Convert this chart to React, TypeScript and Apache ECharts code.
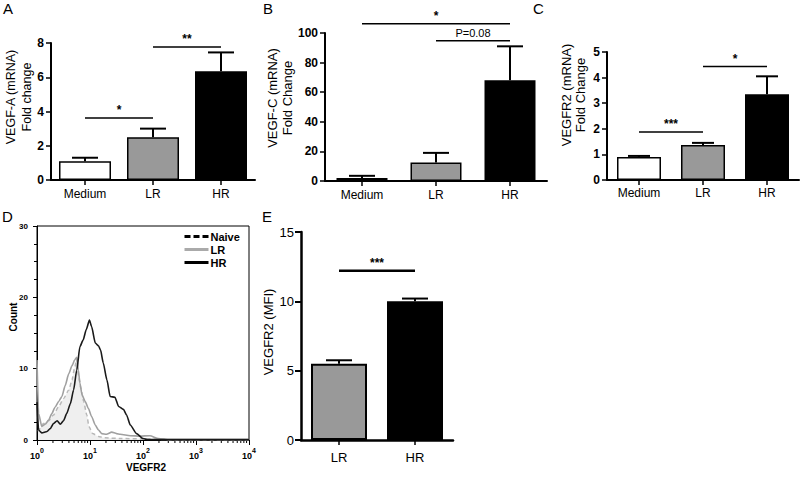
import React, { useEffect, useRef } from 'react';
import * as echarts from 'echarts';

// ---------- data ----------
const categories = ['Medium', 'LR', 'HR'];
const barColors = ['#ffffff', '#999999', '#000000'];

// A: VEGF-A (mRNA) fold change
const vegfaMean = [1.1, 2.5, 6.35];
const vegfaSem = [0.2, 0.5, 1.1];
const sigAFrom = [0, 1];
const sigATo = [1, 2];
const sigAY = [3.62, 7.77];
const sigALabel = ['*', '**'];

// B: VEGF-C (mRNA) fold change
const vegfcMean = [2, 12.5, 68];
const vegfcSem = [1.5, 6.5, 23];
const sigBFrom = [0, 1];
const sigBTo = [2, 2];
const sigBY = [106.3, 94.8];
const sigBLabel = ['*', 'P=0.08'];

// C: VEGFR2 (mRNA) fold change
const vegfr2Mean = [0.9, 1.37, 3.35];
const vegfr2Sem = [0.04, 0.08, 0.7];
const sigCFrom = [0, 1];
const sigCTo = [1, 2];
const sigCY = [1.875, 4.43];
const sigCLabel = ['***', '*'];

// D: flow cytometry histogram (x = log10 VEGFR2 intensity, y = count)
const naiveLog = [0.02, 0.06, 0.12, 0.22, 0.31, 0.41, 0.5, 0.6, 0.66, 0.71, 0.75, 0.78, 0.83, 0.88, 0.94, 0.98, 1.05, 1.16, 1.28, 1.6, 2.0, 2.5, 3.0, 3.5, 4.0];
const naiveCount = [1.2, 1.6, 2.3, 2.7, 3.5, 4.7, 5.8, 7.0, 8.4, 10.1, 11.4, 9.1, 7.2, 5.4, 3.5, 1.9, 0.9, 0.5, 0.3, 0.2, 0.15, 0.05, 0.05, 0.05, 0.05];
const lrLog = [0, 0.03, 0.09, 0.16, 0.22, 0.28, 0.34, 0.41, 0.47, 0.53, 0.6, 0.66, 0.71, 0.75, 0.78, 0.81, 0.85, 0.91, 0.97, 1.03, 1.1, 1.16, 1.22, 1.31, 1.41, 1.5, 1.57, 1.76, 1.94, 2.13, 2.29, 2.5, 3.0, 3.5, 4.0];
const lrCount = [11.2, 3.7, 1.9, 2.25, 2.8, 3.7, 4.6, 5.4, 6.1, 7.6, 9.3, 10.4, 11.2, 11.6, 9.8, 8.0, 6.3, 5.4, 4.4, 3.3, 2.1, 1.4, 0.9, 0.8, 1.1, 0.9, 0.8, 0.6, 0.55, 0.6, 0.2, 0.05, 0.05, 0.05, 0.05];
const hrLog = [0, 0.03, 0.09, 0.19, 0.25, 0.31, 0.38, 0.44, 0.5, 0.56, 0.63, 0.69, 0.75, 0.81, 0.87, 0.93, 0.99, 1.03, 1.1, 1.16, 1.2, 1.25, 1.32, 1.38, 1.47, 1.54, 1.63, 1.69, 1.76, 1.88, 2.0, 2.1, 2.5, 3.0, 3.5, 4.0];
const hrCount = [5.3, 1.4, 1.0, 1.2, 1.6, 2.3, 2.7, 2.2, 2.7, 3.7, 5.1, 7.0, 9.8, 13.1, 14.0, 15.5, 16.8, 15.9, 13.6, 13.2, 12.6, 10.8, 8.4, 6.1, 6.0, 4.7, 4.3, 3.5, 2.1, 0.9, 0.2, 0.05, 0.05, 0.05, 0.05, 0.05];
const decades = [0, 1, 2, 3];
const minorMultipliers = [2, 3, 4, 5, 6, 7, 8, 9];

// E: VEGFR2 (MFI)
const categoriesE = ['LR', 'HR'];
const barColorsE = ['#999999', '#000000'];
const mfiMean = [5.5, 10.0];
const mfiSem = [0.25, 0.2];
const sigEFrom = [0];
const sigETo = [1];
const sigEY = [12.2];
const sigELabel = ['***'];

const FONT = '"Liberation Sans", Arial, Helvetica, sans-serif';

function barSeries(idx: number, means: number[], colors: string[], barWidth: number, borderWidth: number) {
  return {
    type: 'bar',
    name: 'bars' + idx,
    xAxisIndex: idx,
    yAxisIndex: idx,
    barWidth,
    z: 2,
    data: means.map((v, i) => ({ value: v, itemStyle: { color: colors[i] } })),
    itemStyle: { borderColor: '#000', borderWidth },
  };
}

function errorSeries(idx: number, means: number[], sems: number[], capHalf: number, lw: number) {
  return {
    type: 'custom',
    name: 'err' + idx,
    xAxisIndex: idx,
    yAxisIndex: idx,
    z: 3,
    silent: true,
    data: means.map((m, i) => [i, m, m + sems[i]]),
    renderItem: (_params: any, api: any) => {
      const x = api.value(0);
      const base = api.coord([x, api.value(1)]);
      const top = api.coord([x, api.value(2)]);
      return {
        type: 'group',
        children: [
          { type: 'line', shape: { x1: base[0], y1: base[1], x2: top[0], y2: top[1] }, style: { stroke: '#000', lineWidth: lw } },
          { type: 'line', shape: { x1: top[0] - capHalf, y1: top[1], x2: top[0] + capHalf, y2: top[1] }, style: { stroke: '#000', lineWidth: lw } },
        ],
      };
    },
  };
}

function sigSeries(idx: number, from: number[], to: number[], ys: number[], labels: string[], lw: number, fonts: string[]) {
  return {
    type: 'custom',
    name: 'sig' + idx,
    xAxisIndex: idx,
    yAxisIndex: idx,
    z: 4,
    silent: true,
    clip: false,
    data: from.map((f, i) => [f, to[i], ys[i]]),
    renderItem: (params: any, api: any) => {
      const p1 = api.coord([api.value(0), api.value(2)]);
      const p2 = api.coord([api.value(1), api.value(2)]);
      const i = params.dataIndex;
      return {
        type: 'group',
        children: [
          { type: 'line', shape: { x1: p1[0], y1: p1[1], x2: p2[0], y2: p1[1] }, style: { stroke: '#000', lineWidth: lw } },
          {
            type: 'text',
            x: (p1[0] + p2[0]) / 2,
            y: p1[1] - 2,
            style: { text: labels[i], textAlign: 'center', textVerticalAlign: 'bottom', font: fonts[i], fill: '#000' },
          },
        ],
      };
    },
  };
}

function catAxis(idx: number, data: string[], fontSize: number, margin: number, lw: number) {
  return {
    type: 'category',
    gridIndex: idx,
    data,
    axisLine: { show: true, lineStyle: { color: '#000', width: lw } },
    axisTick: { show: true, alignWithLabel: true, length: 5, lineStyle: { color: '#000', width: 1.5 } },
    axisLabel: { color: '#000', fontSize, fontFamily: FONT, margin },
    splitLine: { show: false },
  };
}

function valAxis(idx: number, max: number, interval: number, bold: boolean, fontSize: number, lw: number) {
  return {
    type: 'value',
    gridIndex: idx,
    min: 0,
    max,
    interval,
    axisLine: { show: true, lineStyle: { color: '#000', width: lw } },
    axisTick: { show: true, length: 5, lineStyle: { color: '#000', width: 1.5 } },
    axisLabel: { color: '#000', fontSize, fontWeight: bold ? 'bold' : 'normal', fontFamily: FONT, margin: 7 },
    splitLine: { show: false },
  };
}

function vText(x: number, y: number, text: string, font: string, lineHeight: number) {
  return {
    type: 'text',
    x,
    y,
    rotation: Math.PI / 2,
    style: { text, font, fill: '#000', textAlign: 'center', textVerticalAlign: 'middle', lineHeight },
  };
}

function letter(x: number, y: number, text: string) {
  return { type: 'text', x, y, style: { text, font: `15px ${FONT}`, fill: '#000', textAlign: 'left', textVerticalAlign: 'top' } };
}

export default function App() {
  const ref = useRef<HTMLDivElement>(null);
  useEffect(() => {
    if (!ref.current) return;
    const chart = echarts.init(ref.current, undefined, { renderer: 'svg' });
    const minorTicks: number[][] = [];
    decades.forEach((d) => minorMultipliers.forEach((k) => minorTicks.push([d + Math.log10(k), 0])));

    const hiddenSymbol = { color: 'rgba(0,0,0,0)', borderWidth: 0, opacity: 0 };

    const option: any = {
      animation: false,
      backgroundColor: '#ffffff',
      textStyle: { fontFamily: FONT },
      grid: [
        { left: 51, top: 43, width: 204, height: 137 },
        { left: 325, top: 33, width: 222, height: 148 },
        { left: 607, top: 52, width: 192, height: 128 },
        { left: 37, top: 226, width: 212, height: 214, show: true, borderColor: '#000', borderWidth: 1, backgroundColor: 'transparent' },
        { left: 301, top: 232, width: 152, height: 208 },
      ],
      xAxis: [
        catAxis(0, categories, 12, 8, 2),
        catAxis(1, categories, 12, 8, 2),
        catAxis(2, categories, 12, 7, 2),
        {
          type: 'value',
          gridIndex: 3,
          min: 0,
          max: 4,
          interval: 1,
          axisLine: { show: true, lineStyle: { color: '#000', width: 1 } },
          axisTick: { show: true, length: 5, lineStyle: { color: '#000', width: 1 } },
          axisLabel: {
            margin: 7,
            formatter: (v: number) => `{b|10}{s|${v}}`,
            rich: {
              b: { fontSize: 9, fontWeight: 'bold', fontFamily: FONT, color: '#000', lineHeight: 13, verticalAlign: 'bottom' },
              s: { fontSize: 7, fontWeight: 'bold', fontFamily: FONT, color: '#000', lineHeight: 13, verticalAlign: 'top' },
            },
          },
          splitLine: { show: false },
        },
        catAxis(4, categoriesE, 13, 11, 2.5),
      ],
      yAxis: [
        valAxis(0, 8, 2, true, 12, 2),
        valAxis(1, 100, 20, true, 12, 2),
        valAxis(2, 5, 1, true, 12, 2),
        {
          type: 'value',
          gridIndex: 3,
          min: 0,
          max: 30,
          interval: 10,
          axisLine: { show: true, lineStyle: { color: '#000', width: 1 } },
          axisTick: { show: true, length: 4, lineStyle: { color: '#000', width: 1 } },
          minorTick: { show: true, splitNumber: 4, length: 3, lineStyle: { color: '#000', width: 1 } },
          axisLabel: { color: '#000', fontSize: 8, fontWeight: 'bold', fontFamily: FONT, margin: 9 },
          splitLine: { show: false },
          minorSplitLine: { show: false },
        },
        { ...valAxis(4, 15, 5, false, 13, 2.5), axisTick: { show: true, length: 6, lineStyle: { color: '#000', width: 2 } } },
      ],
      legend: {
        left: 183,
        top: 231,
        orient: 'vertical',
        itemWidth: 24,
        itemHeight: 10,
        itemGap: 2,
        padding: 0,
        selectedMode: false,
        textStyle: { fontSize: 11, fontWeight: 'bold', fontFamily: FONT, color: '#000', padding: [0, 0, 0, -3] },
        data: [
          { name: 'Naive', itemStyle: hiddenSymbol, lineStyle: { color: '#000', type: [6, 3], width: 3 } },
          { name: 'LR', itemStyle: hiddenSymbol, lineStyle: { color: '#aaa', width: 3 } },
          { name: 'HR', itemStyle: hiddenSymbol, lineStyle: { color: '#000', width: 3 } },
        ],
      },
      series: [
        barSeries(0, vegfaMean, barColors, 52, 1.5),
        errorSeries(0, vegfaMean, vegfaSem, 13, 2),
        sigSeries(0, sigAFrom, sigATo, sigAY, sigALabel, 1.5, [`bold 12px ${FONT}`, `bold 12px ${FONT}`]),

        barSeries(1, vegfcMean, barColors, 51, 1.5),
        errorSeries(1, vegfcMean, vegfcSem, 13, 2),
        sigSeries(1, sigBFrom, sigBTo, sigBY, sigBLabel, 1.5, [`bold 12px ${FONT}`, `11px ${FONT}`]),

        barSeries(2, vegfr2Mean, barColors, 44, 1.5),
        errorSeries(2, vegfr2Mean, vegfr2Sem, 11, 2),
        sigSeries(2, sigCFrom, sigCTo, sigCY, sigCLabel, 1.5, [`bold 12px ${FONT}`, `bold 12px ${FONT}`]),

        {
          type: 'line',
          name: 'Naive',
          xAxisIndex: 3,
          yAxisIndex: 3,
          showSymbol: false,
          symbol: 'none',
          smooth: 0.2,
          smoothMonotone: 'x',
          color: '#000',
          z: 2,
          data: naiveLog.map((x, i) => [x, naiveCount[i]]),
          lineStyle: { color: '#b8b8b8', width: 1.5, type: [4, 3] },
          areaStyle: { color: '#efefef', opacity: 1 },
        },
        {
          type: 'line',
          name: 'LR',
          xAxisIndex: 3,
          yAxisIndex: 3,
          showSymbol: false,
          symbol: 'none',
          smooth: 0.2,
          smoothMonotone: 'x',
          color: '#aaa',
          z: 3,
          data: lrLog.map((x, i) => [x, lrCount[i]]),
          lineStyle: { color: '#a0a0a0', width: 1.6 },
        },
        {
          type: 'line',
          name: 'HR',
          xAxisIndex: 3,
          yAxisIndex: 3,
          showSymbol: false,
          symbol: 'none',
          smooth: 0.2,
          smoothMonotone: 'x',
          color: '#000',
          z: 4,
          data: hrLog.map((x, i) => [x, hrCount[i]]),
          lineStyle: { color: '#1a1a1a', width: 1.6 },
        },
        {
          type: 'custom',
          name: 'minorTicks',
          xAxisIndex: 3,
          yAxisIndex: 3,
          silent: true,
          clip: false,
          data: minorTicks,
          renderItem: (_p: any, api: any) => {
            const p = api.coord([api.value(0), 0]);
            return { type: 'line', shape: { x1: p[0], y1: p[1], x2: p[0], y2: p[1] + 3 }, style: { stroke: '#000', lineWidth: 1 } };
          },
        },

        barSeries(4, mfiMean, barColorsE, 56, 2),
        errorSeries(4, mfiMean, mfiSem, 13, 2),
        sigSeries(4, sigEFrom, sigETo, sigEY, sigELabel, 2.5, [`bold 12px ${FONT}`]),
      ],
      graphic: [
        letter(3, 1, 'A'),
        letter(263, 1, 'B'),
        letter(533, 1, 'C'),
        letter(2, 209, 'D'),
        letter(262, 209, 'E'),
        vText(19, 97, 'VEGF-A (mRNA)\nFold change', `12.5px ${FONT}`, 16),
        vText(280, 98, 'VEGF-C (mRNA)\nFold Change', `13px ${FONT}`, 15),
        vText(573, 95, 'VEGFR2 (mRNA)\nFold Change', `13px ${FONT}`, 14),
        vText(268, 332, 'VEGFR2 (MFI)', `13px ${FONT}`, 15),
        vText(13, 317, 'Count', `bold 10px ${FONT}`, 12),
        { type: 'text', x: 146, y: 467, style: { text: 'VEGFR2', font: `bold 10px ${FONT}`, fill: '#000', textAlign: 'center', textVerticalAlign: 'middle' } },
      ],
    };
    chart.setOption(option);
    return () => chart.dispose();
  }, []);
  return <div ref={ref} style={{ position: 'fixed', left: 0, top: 0, width: 800, height: 481 }} />;
}
